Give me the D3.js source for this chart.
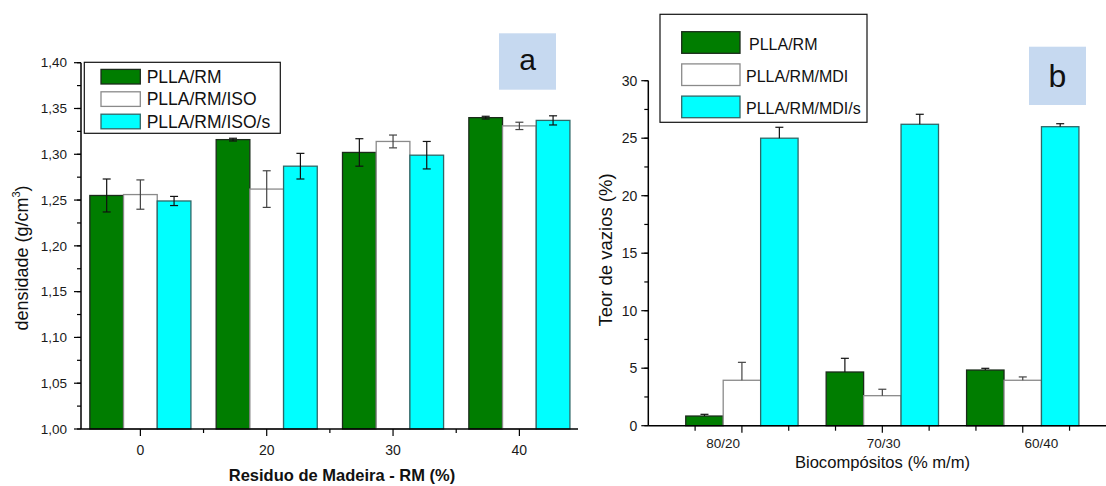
<!DOCTYPE html>
<html>
<head>
<meta charset="utf-8">
<script src="https://cdn.jsdelivr.net/npm/d3@7"></script>
<style>
  body { margin: 0; background: #fff; }
  svg { display: block; font-family: "Liberation Sans", Arial, sans-serif; }
</style>
</head>
<body>
<div id="chart"></div>
<script>
// Panel a data: density by wood residue content
const catsA = ["0", "20", "30", "40"];
const rmA = [1.255, 1.316, 1.302, 1.340];
const rmAErr = [0.018, 0.0015, 0.015, 0.0015];
const isoA = [1.256, 1.262, 1.314, 1.331];
const isoAErr = [0.016, 0.020, 0.007, 0.004];
const isoSA = [1.249, 1.287, 1.299, 1.337];
const isoSAErr = [0.005, 0.014, 0.015, 0.005];
const namesA = ["PLLA/RM", "PLLA/RM/ISO", "PLLA/RM/ISO/s"];
const ticksA = [1.00, 1.05, 1.10, 1.15, 1.20, 1.25, 1.30, 1.35, 1.40];

// Panel b data: void content by composition
const catsB = ["80/20", "70/30", "60/40"];
const slotsB = [1, 4, 7];          // group slots on the x axis
const labelSlotsB = [0.6, 4.03, 7.4]; // where the tick labels sit
const rmB = [0.84, 4.67, 4.84];
const rmBErr = [0.15, 1.19, 0.15];
const mdiB = [3.95, 2.61, 3.95];
const mdiBErr = [1.56, 0.56, 0.29];
const mdiSB = [25.0, 26.21, 26.0];
const mdiSBErr = [0.95, 0.87, 0.26];
const namesB = ["PLLA/RM", "PLLA/RM/MDI", "PLLA/RM/MDI/s"];
const ticksB = [0, 5, 10, 15, 20, 25, 30];

const W = 1106, H = 486;
const fills = ["#007d00", "#ffffff", "#00ffff"];
const strokes = ["#1b2b1b", "#8a8a8a", "#2f6868"];

const svg = d3.select("#chart").append("svg")
    .attr("width", W).attr("height", H);

function yAxisLines(g, y, x0, majors, minorStep, fmt, fontSize, labelGap) {
    const [d0, d1] = y.domain();
    const minors = d3.range(d0, d1 + 1e-9, minorStep);
    g.append("line")
        .attr("x1", x0).attr("x2", x0)
        .attr("y1", y(d0)).attr("y2", y(d1))
        .attr("stroke", "#000").attr("stroke-width", 1.5);
    g.selectAll(".ymin").data(minors).enter().append("line")
        .attr("x1", x0 - 4).attr("x2", x0)
        .attr("y1", d => y(d)).attr("y2", d => y(d))
        .attr("stroke", "#000").attr("stroke-width", 1.2);
    g.selectAll(".ymaj").data(majors).enter().append("line")
        .attr("x1", x0 - 7).attr("x2", x0)
        .attr("y1", d => y(d)).attr("y2", d => y(d))
        .attr("stroke", "#000").attr("stroke-width", 1.2);
    g.selectAll(".ylab").data(majors).enter().append("text")
        .attr("x", x0 - labelGap)
        .attr("y", d => y(d) + fontSize * 0.35)
        .attr("text-anchor", "end")
        .attr("font-size", fontSize)
        .attr("fill", "#1a1a1a")
        .text(fmt);
}

function bars(g, x, y, series, slots, bw) {
    series.forEach((s, i) => {
        g.selectAll(".bar" + i).data(s.vals).enter().append("rect")
            .attr("x", (d, j) => x(slots[j] + (i - 1.5) * bw))
            .attr("width", x(bw) - x(0))
            .attr("y", d => y(d))
            .attr("height", d => y(y.domain()[0]) - y(d))
            .attr("fill", fills[i])
            .attr("stroke", strokes[i])
            .attr("stroke-width", 1.3);
    });
}

function errBars(g, x, y, series, slots, bw, twoSided) {
    series.forEach((s, i) => {
        const eg = g.append("g").attr("stroke", i === 1 ? "#444" : "#111").attr("stroke-width", 1.2);
        s.vals.forEach((v, j) => {
            const cx = x(slots[j] + (i - 1) * bw);
            const e = s.err[j];
            const yTop = y(v + e), yBot = twoSided ? y(v - e) : y(v);
            eg.append("line").attr("x1", cx).attr("x2", cx).attr("y1", yTop).attr("y2", yBot);
            eg.append("line").attr("x1", cx - 4).attr("x2", cx + 4).attr("y1", yTop).attr("y2", yTop);
            if (twoSided) {
                eg.append("line").attr("x1", cx - 4).attr("x2", cx + 4).attr("y1", yBot).attr("y2", yBot);
            }
        });
    });
}

// ---------------- Panel a ----------------
const gA = svg.append("g");
const xA = d3.scaleLinear().domain([-0.47, 3.464]).range([81, 578]);
const yA = d3.scaleLinear().domain([1.0, 1.4]).range([429, 62.7]);
const bwA = 0.2667;
const seriesA = [
    { vals: rmA, err: rmAErr },
    { vals: isoA, err: isoAErr },
    { vals: isoSA, err: isoSAErr }
];
const idxA = catsA.map((c, i) => i);

bars(gA, xA, yA, seriesA, idxA, bwA);
errBars(gA, xA, yA, seriesA, idxA, bwA, true);

// x axis a
gA.append("line").attr("x1", xA.range()[0]).attr("x2", xA.range()[1])
    .attr("y1", yA(1.0)).attr("y2", yA(1.0))
    .attr("stroke", "#000").attr("stroke-width", 1.5);
gA.selectAll(".xmaj").data(idxA).enter().append("line")
    .attr("x1", d => xA(d)).attr("x2", d => xA(d))
    .attr("y1", yA(1.0)).attr("y2", yA(1.0) + 7)
    .attr("stroke", "#000").attr("stroke-width", 1.2);
gA.selectAll(".xmin").data([0.5, 1.5, 2.5]).enter().append("line")
    .attr("x1", d => xA(d)).attr("x2", d => xA(d))
    .attr("y1", yA(1.0)).attr("y2", yA(1.0) + 4)
    .attr("stroke", "#000").attr("stroke-width", 1.2);
gA.selectAll(".xlab").data(catsA).enter().append("text")
    .attr("x", (d, i) => xA(i)).attr("y", 455)
    .attr("text-anchor", "middle").attr("font-size", 14).attr("fill", "#1a1a1a")
    .text(d => d);

yAxisLines(gA, yA, 81, ticksA, 0.025, d => d3.format(".2f")(d).replace(".", ","), 13.5, 14);

gA.append("text")
    .attr("x", 342).attr("y", 480.5)
    .attr("text-anchor", "middle").attr("font-size", 16.5).attr("font-weight", "bold")
    .attr("fill", "#111")
    .text("Residuo de Madeira - RM (%)");

const yLabA = gA.append("text")
    .attr("transform", "translate(28,258) rotate(-90)")
    .attr("text-anchor", "middle").attr("font-size", 18).attr("fill", "#111");
yLabA.append("tspan").text("densidade (g/cm");
yLabA.append("tspan").attr("font-size", 11).attr("dy", -8).text("3");
yLabA.append("tspan").attr("dy", 8).text(")");

// legend a
gA.append("rect").attr("x", 84.3).attr("y", 62.3).attr("width", 196).attr("height", 71)
    .attr("fill", "#fff").attr("stroke", "#111").attr("stroke-width", 1.2);
namesA.forEach((n, i) => {
    const cy = 76.7 + i * 22.4;
    gA.append("rect").attr("x", 101).attr("y", cy - 7.3).attr("width", 39.3).attr("height", 14.6)
        .attr("fill", fills[i]).attr("stroke", strokes[i]).attr("stroke-width", 1.3);
    gA.append("text").attr("x", 146.7).attr("y", cy + 6)
        .attr("font-size", 17.5).attr("fill", "#111").text(n);
});

// label a
gA.append("rect").attr("x", 499).attr("y", 33.3).attr("width", 57).attr("height", 56.4).attr("fill", "#c6d9f0");
gA.append("text").attr("x", 527.5).attr("y", 70).attr("text-anchor", "middle")
    .attr("font-size", 30).attr("fill", "#111").text("a");

// ---------------- Panel b ----------------
const gB = svg.append("g");
const xB = d3.scaleLinear().domain([-1, 8.8]).range([648.3, 1107]);
const yB = d3.scaleLinear().domain([0, 30]).range([425.7, 80.7]);
const bwB = 0.8;
const seriesB = [
    { vals: rmB, err: rmBErr },
    { vals: mdiB, err: mdiBErr },
    { vals: mdiSB, err: mdiSBErr }
];

bars(gB, xB, yB, seriesB, slotsB, bwB);
errBars(gB, xB, yB, seriesB, slotsB, bwB, false);

// x axis b
gB.append("line").attr("x1", xB.range()[0]).attr("x2", xB.range()[1])
    .attr("y1", yB(0)).attr("y2", yB(0))
    .attr("stroke", "#000").attr("stroke-width", 1.5);
gB.selectAll(".xt").data(d3.range(0, 9)).enter().append("line")
    .attr("x1", d => xB(d)).attr("x2", d => xB(d))
    .attr("y1", yB(0)).attr("y2", d => yB(0) + (d % 3 === 1 ? 7 : 5))
    .attr("stroke", "#000").attr("stroke-width", 1.2);
gB.selectAll(".xlab").data(catsB).enter().append("text")
    .attr("x", (d, i) => xB(labelSlotsB[i])).attr("y", 448)
    .attr("text-anchor", "middle").attr("font-size", 13.5).attr("fill", "#1a1a1a")
    .text(d => d);

yAxisLines(gB, yB, 648.3, ticksB, 2.5, d => d, 14, 11);

gB.append("text")
    .attr("x", 882.5).attr("y", 468)
    .attr("text-anchor", "middle").attr("font-size", 16.6).attr("fill", "#111")
    .text("Biocompósitos (% m/m)");
gB.append("text")
    .attr("transform", "translate(612,250) rotate(-90)")
    .attr("text-anchor", "middle").attr("font-size", 18.5).attr("fill", "#111")
    .text("Teor de vazios (%)");

// legend b
gB.append("rect").attr("x", 660).attr("y", 14.3).attr("width", 207).attr("height", 108)
    .attr("fill", "#fff").attr("stroke", "#111").attr("stroke-width", 1.2);
namesB.forEach((n, i) => {
    const cy = 42.5 + i * 32.2;
    gB.append("rect").attr("x", 681.7).attr("y", cy - 10.8).attr("width", 58.3).attr("height", 21.6)
        .attr("fill", fills[i]).attr("stroke", strokes[i]).attr("stroke-width", 1.3);
    gB.append("text").attr("x", i === 0 ? 749 : 746).attr("y", cy + 7.5)
        .attr("font-size", 16).attr("fill", "#111").text(n);
});

// label b
gB.append("rect").attr("x", 1029).attr("y", 46.7).attr("width", 57).attr("height", 58.3).attr("fill", "#c6d9f0");
gB.append("text").attr("x", 1057.5).attr("y", 87).attr("text-anchor", "middle")
    .attr("font-size", 32).attr("fill", "#111").text("b");
</script>
</body>
</html>
